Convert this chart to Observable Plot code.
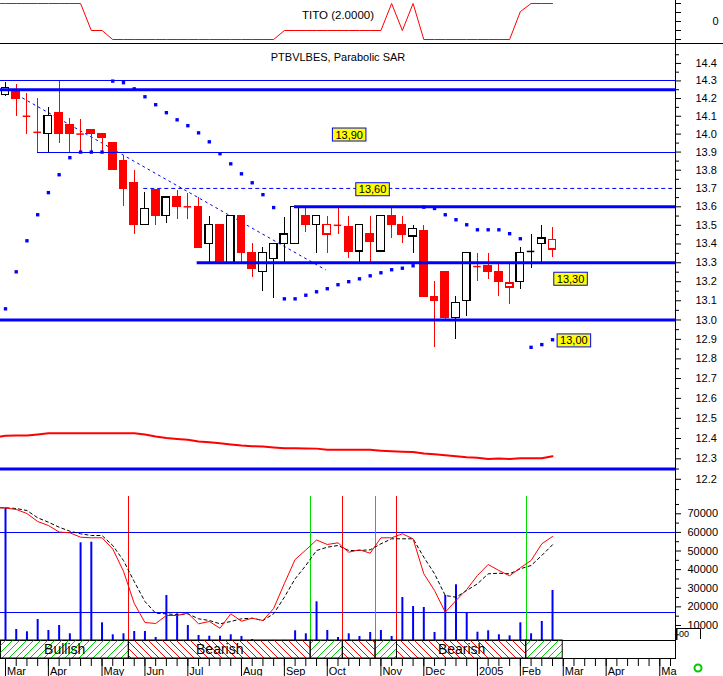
<!DOCTYPE html>
<html><head><meta charset="utf-8">
<script src="https://cdn.jsdelivr.net/npm/d3@7"></script>
<script src="https://cdn.jsdelivr.net/npm/@observablehq/plot@0.6"></script>
<style>
body{margin:0;background:#fff;}
#chart{position:relative;width:723px;height:676px;overflow:hidden;background:#fff;}
</style></head><body><div id="chart"></div>
<script>
// ---------------- DATA ----------------
// weekly candles, Mar 2004 .. Feb 2005 (index = week number)
const weeks = d3.range(52);
const open  = [14.22,14.24,14.10,14.01,14.00,14.12,14.05,14.00,14.02,14.00,13.95,13.85,13.73,13.50,13.69,13.55,13.65,13.60,13.60,13.40,13.50,13.30,13.55,13.35,13.25,13.32,13.40,13.40,13.55,13.50,13.45,13.50,13.49,13.36,13.45,13.36,13.55,13.50,13.44,13.47,13.12,13.25,13.01,13.10,13.28,13.28,13.25,13.17,13.20,13.36,13.40,13.37];
const high  = [14.29,14.28,14.23,14.20,14.15,14.30,14.09,14.08,14.02,14.00,13.95,13.88,13.80,13.68,13.69,13.65,13.69,13.67,13.65,13.55,13.50,13.55,13.55,13.40,13.38,13.40,13.54,13.60,13.60,13.55,13.55,13.60,13.55,13.50,13.55,13.55,13.60,13.55,13.50,13.50,13.20,13.25,13.12,13.35,13.35,13.35,13.29,13.29,13.38,13.45,13.50,13.49];
const low   = [14.21,14.10,14.00,13.90,13.90,13.95,13.90,13.90,13.90,13.90,13.80,13.60,13.45,13.50,13.50,13.51,13.53,13.53,13.38,13.30,13.30,13.30,13.30,13.22,13.15,13.11,13.30,13.40,13.46,13.35,13.35,13.45,13.32,13.30,13.30,13.36,13.43,13.40,13.35,13.12,12.86,13.00,12.90,13.02,13.20,13.21,13.12,13.08,13.16,13.27,13.30,13.33];
const close = [14.26,14.20,14.10,14.01,14.10,14.00,14.00,14.00,14.00,13.98,13.80,13.70,13.50,13.59,13.55,13.65,13.60,13.60,13.38,13.50,13.30,13.55,13.35,13.27,13.35,13.40,13.45,13.60,13.50,13.55,13.50,13.50,13.36,13.50,13.41,13.55,13.50,13.45,13.48,13.12,13.10,13.01,13.09,13.35,13.28,13.25,13.20,13.19,13.35,13.36,13.43,13.42];
// Parabolic SAR
const sar = [13.058,13.252,13.417,13.557,13.677,13.775,13.869,13.90,13.90,13.90,14.299,14.29,14.255,14.21,14.165,14.12,14.08,14.047,14.007,13.957,13.891,13.835,13.78,13.731,13.666,13.596,13.11,13.11,13.129,13.147,13.163,13.184,13.20,13.215,13.231,13.247,13.263,13.271,13.284,13.598,13.591,13.557,13.53,13.503,13.476,13.476,13.476,13.455,13.428,12.859,12.873,12.898];
// long moving average (value at the left edge, then weekly)
const movAvgEdge = 12.41;
const movAvg = [12.413,12.415,12.415,12.42,12.426,12.426,12.426,12.426,12.426,12.426,12.426,12.426,12.426,12.42,12.41,12.402,12.398,12.394,12.385,12.381,12.376,12.37,12.365,12.362,12.36,12.356,12.352,12.352,12.351,12.35,12.344,12.344,12.344,12.344,12.344,12.34,12.337,12.335,12.333,12.326,12.322,12.318,12.313,12.308,12.305,12.299,12.301,12.299,12.303,12.303,12.303,12.313];
// TITO indicator
const titoEdge = 2;
const tito = [2,2,2,2,2,2,2,2,-1,-1,-2,-2,-2,-2,-2,-2,-2,-2,-2,-2,-2,-2,-2,-2,-2,-2,-1,-1,-1,-1,-1,-1,-1,-1,-1,-1,2,-1,2,-2,-2,-2,-2,-2,-2,-2,-2,-2,1.1,2,2,2];
const titoTicks = [2,1,0,-1,-2];
// volume and oscillator
const volume = [73210,7840,6610,13210,7300,9990,5530,54410,54730,11440,5000,5530,6770,6770,3550,26100,16280,9990,4620,4240,4240,5000,4080,2470,1000,2000,2000,7140,5530,22720,7300,3550,5530,4080,6230,7300,4080,25030,20200,19660,6230,26100,31850,16810,6390,7140,5000,4460,11440,5530,12140,28790];
const oscMainEdge = 73210;
const oscMain = [73100,72300,70150,65850,63700,60200,59780,57420,57100,57100,51080,39150,21900,11600,11070,15360,15360,16600,10900,12140,8540,16280,12300,13910,12680,19120,32550,45440,50540,55920,53500,54410,49360,50650,48830,57100,57100,59250,56560,37760,28790,17130,23420,29330,36850,42760,39530,36690,40980,44900,53870,57800];
const oscSignalEdge = 73210;
const oscSignal = [73210,72840,71760,67840,65480,62790,60640,59250,58330,58330,52960,44900,33620,22880,16600,16280,15740,16280,13590,12680,10900,12140,13590,13910,12680,16280,25190,35080,42220,50280,52050,52960,50280,50280,50650,53870,56560,56560,56560,46680,37760,26100,25190,28790,32390,37760,38080,37760,40450,42220,47590,53340];
const oscLevels = [60000, 16800];
const volTickLabels = [10000,20000,30000,40000,50000,60000,70000];
// buy / sell signals (week position) and state band
const signalWeeks = [11.5, 28.45, 31.45, 34.5, 36.5, 48.55];
const signalTypes = ["sell","buy","sell","buy","sell","buy"];
const bandEndWeek = 51.95;
// support / resistance levels
const thickLevels = [14.25, 13.6, 13.3, 13.0, 12.25];
const thickLevelFrom = [null, 26.94, 17.87, null, null];
const thinLevels = [14.3, 13.9];
const thinLevelFrom = [null, 2.98];
const dashedLevels = [13.7];
const dashedLevelFrom = [12.89];
const trendWeeks = [0.63, 29.83];
const trendPrices = [14.236, 13.263];
// yellow price labels
const labelTexts = ["13,90","13,60","13,30","13,00"];
const labelWeeks = [32.04, 34.22, 52.68, 52.99];
const labelPrices = [13.995, 13.693, 13.213, 12.892];
// axis labels
const priceTickLabels = [12.2,12.3,12.4,12.5,12.6,12.7,12.8,12.9,13.0,13.1,13.2,13.3,13.4,13.5,13.6,13.7,13.8,13.9,14.0,14.1,14.2,14.3,14.4];
const monthLabels = ["Mar","Apr","May","Jun","Jul","Aug","Sep","Oct","Nov","Dec","2005","Feb","Mar","Apr","Ma"];
const monthWeeks = [0,4,9,13,17,22,26,30,35,39,44,48,52,56,61];

// ---------------- LAYOUT ----------------
const W = 723, RIGHT = 48;
const PX0 = 5, PXW = 10.726;
const xDomain = [(0 - PX0) / PXW, (W - RIGHT - PX0) / PXW];
const BLUE = "#0000ff", RED = "#ff0000", GREEN = "#00dd00";
const FONT = "'Liberation Sans', Arial, sans-serif";
const baseStyle = {fontFamily: FONT, fontSize: "11px", background: "none", overflow: "visible", color: "black"};
const container = document.getElementById("chart");
function place(node, top) {
  node.style.position = "absolute"; node.style.left = "0px"; node.style.top = top + "px";
  container.appendChild(node); return node;
}
const xMin = xDomain[0], xMax = xDomain[1];
const withEdge = (edge, arr) => [{x: xMin, y: edge}, ...arr.map((y, i) => ({x: i, y}))];

const candles = weeks.map(i => ({i, o: open[i], h: high[i], l: low[i], c: close[i],
  up: i === 0 || close[i] > close[i - 1]}));
const cColor = d => d.up ? "black" : RED;
const cFill = d => d.c < d.o ? cColor(d) : "white";
const HW = 0.35;

// ---- Panel 1: TITO ----
const p1 = Plot.plot({
  width: W, height: 43, marginLeft: 0, marginRight: RIGHT, marginTop: 0, marginBottom: 0,
  style: baseStyle,
  x: {domain: xDomain, axis: null},
  y: {domain: [-22 / 9, 21 / 9]},
  marks: [
    Plot.line(withEdge(titoEdge, tito), {x: "x", y: "y", stroke: RED, strokeWidth: 1}),
    Plot.text(["TITO (2.0000)"], {text: d => d, frameAnchor: "top", dy: 10.3, fontSize: 11.5}),
    Plot.axisY(titoTicks, {anchor: "right", tickSize: 5, tickPadding: 32, tickFormat: d => d === 0 ? "0" : "", label: null}),
    Plot.ruleX([xMax], {stroke: "black"})
  ]
});
place(p1, 0);

// ---- Panel 2: price ----
const p2 = Plot.plot({
  width: W, height: 450, marginLeft: 0, marginRight: RIGHT, marginTop: 0, marginBottom: 0,
  style: baseStyle,
  color: {type: "identity"},
  x: {domain: xDomain, axis: null},
  y: {type: "log", domain: [12.131, 14.515]},
  marks: [
    Plot.line(withEdge(movAvgEdge, movAvg), {x: "x", y: "y", stroke: RED, strokeWidth: 2}),
    Plot.line(trendWeeks, {x: d => d, y: (d, i) => trendPrices[i], stroke: BLUE, strokeWidth: 1, strokeDasharray: "2,4"}),
    Plot.ruleY(dashedLevels, {y: d => d, x1: (d, i) => dashedLevelFrom[i] ?? xMin, x2: xMax, stroke: BLUE, strokeDasharray: "4,3"}),
    Plot.ruleX(candles, {x: "i", y1: "l", y2: "h", stroke: cColor, strokeWidth: 1, shapeRendering: "crispEdges"}),
    Plot.rect(candles.filter(d => d.o !== d.c), {x1: d => d.i - HW, x2: d => d.i + HW, y1: "o", y2: "c",
      fill: cFill, stroke: cColor, strokeWidth: 1.3, shapeRendering: "crispEdges"}),
    Plot.ruleY(candles.filter(d => d.o === d.c), {y: "c", x1: d => d.i - HW, x2: d => d.i + HW, stroke: cColor, strokeWidth: 1.5}),
    Plot.ruleY(thinLevels, {y: d => d, x1: (d, i) => thinLevelFrom[i] ?? xMin, x2: xMax, stroke: BLUE, strokeWidth: 1, shapeRendering: "crispEdges"}),
    Plot.ruleY(thickLevels, {y: d => d, x1: (d, i) => thickLevelFrom[i] ?? xMin, x2: xMax, stroke: BLUE, strokeWidth: 3}),
    Plot.dot(weeks, {x: d => d, y: d => sar[d], symbol: "square", r: 1.9, fill: BLUE}),
    Plot.text(labelTexts, {text: d => d, x: (d, i) => labelWeeks[i], y: (d, i) => labelPrices[i], fontSize: 11, fill: "black"}),
    Plot.text(["PTBVLBES, Parabolic SAR"], {text: d => d, frameAnchor: "top", dy: 9.7, fontSize: 11}),
    Plot.axisY(priceTickLabels, {anchor: "right", tickSize: 5, tickPadding: 15, tickFormat: d3.format(".1f"), label: null}),
    Plot.axisY(priceTickLabels.map(v => v - 0.05).concat([14.45]), {anchor: "right", tickSize: 3, tickFormat: () => "", label: null}),
    Plot.ruleX([xMax], {stroke: "black"})
  ]
});
place(p2, 43);
// yellow boxes behind the price labels
const labelSet = new Set(labelTexts);
d3.select(p2).selectAll("text").filter(function() { return labelSet.has(this.textContent); }).each(function() {
  const b = this.getBBox();
  d3.select(this.parentNode).insert("rect", () => this)
    .attr("transform", this.getAttribute("transform"))
    .attr("x", b.x - 3).attr("y", b.y - 0.5).attr("width", b.width + 6).attr("height", b.height + 1)
    .attr("fill", "#ffff00").attr("stroke", BLUE).attr("stroke-width", 1);
});

// ---- Panel 3: volume & oscillator ----
const SIGNAL_TOP = 79280;
const p3 = Plot.plot({
  width: W, height: 147, marginLeft: 0, marginRight: RIGHT, marginTop: 0, marginBottom: 0,
  style: baseStyle,
  x: {domain: xDomain, axis: null},
  y: {domain: [1934, 80894]},
  marks: [
    Plot.ruleY(oscLevels, {y: d => d, stroke: BLUE, strokeWidth: 1, shapeRendering: "crispEdges"}),
    Plot.ruleX(signalWeeks.filter((d, i) => signalTypes[i] === "sell"), {x: d => d, y1: 0, y2: SIGNAL_TOP, clip: true, stroke: RED, shapeRendering: "crispEdges"}),
    Plot.ruleX(signalWeeks.filter((d, i) => signalTypes[i] === "buy"), {x: d => d, y1: 0, y2: SIGNAL_TOP, clip: true, stroke: GREEN, shapeRendering: "crispEdges"}),
    Plot.ruleX(weeks, {x: d => d, y1: 0, y2: d => volume[d], stroke: BLUE, strokeWidth: 2, clip: true}),
    Plot.line(withEdge(oscSignalEdge, oscSignal), {x: "x", y: "y", stroke: "black", strokeWidth: 1, strokeDasharray: "3,3"}),
    Plot.line(withEdge(oscMainEdge, oscMain), {x: "x", y: "y", stroke: RED, strokeWidth: 1}),
    Plot.axisY(volTickLabels, {anchor: "right", tickSize: 5, tickPadding: 7, tickFormat: d3.format("d"), label: null}),
    Plot.axisY(volTickLabels.map(v => v - 5000).concat([75000]), {anchor: "right", tickSize: 3, tickFormat: () => "", label: null}),
    Plot.ruleX([xMax], {stroke: "black"})
  ]
});
place(p3, 493);

// ---- Panel 4: state band and time axis ----
const bounds = [xMin, ...signalWeeks, bandEndWeek];
const segments = bounds.slice(0, -1).map((x1, k) => ({x1, x2: bounds[k + 1],
  type: k === 0 ? "Bullish" : (signalTypes[k - 1] === "buy" ? "Bullish" : "Bearish")}));
const p4 = Plot.plot({
  width: W - RIGHT + 4, height: 37, marginLeft: 0, marginRight: 4, marginTop: 1, marginBottom: 18,
  style: {...baseStyle, overflow: "hidden"},
  x: {domain: xDomain},
  marks: [
    Plot.frame({stroke: "black"}),
    Plot.rect(segments.filter(s => s.type === "Bullish"), {x1: "x1", x2: "x2", fill: "url(#hatchBull)", stroke: "black"}),
    Plot.rect(segments.filter(s => s.type === "Bearish"), {x1: "x1", x2: "x2", fill: "url(#hatchBear)", stroke: "black"}),
    Plot.text(segments.filter(s => s.x2 - s.x1 > 10), {x: s => (s.x1 + s.x2) / 2, text: "type", frameAnchor: "middle", fontSize: 14}),
    Plot.axisX(d3.range(0, 63), {anchor: "bottom", tickSize: 8, tickFormat: () => "", label: null}),
    Plot.axisX(monthWeeks, {anchor: "bottom", tickSize: 18, tickFormat: () => "", label: null}),
    Plot.text(monthWeeks, {x: d => d, text: (d, i) => monthLabels[i], frameAnchor: "bottom", textAnchor: "start", lineAnchor: "top", dx: 1.5, dy: 8.5, fontSize: 11})
  ]
});
const defs = d3.select(p4).insert("defs", ":first-child");
defs.append("pattern").attr("id", "hatchBull").attr("patternUnits", "userSpaceOnUse").attr("width", 7).attr("height", 7)
  .append("path").attr("d", "M0,7L7,0M-1,1L1,-1M6,8L8,6").attr("stroke", "#00cc00").attr("stroke-width", 1);
defs.append("pattern").attr("id", "hatchBear").attr("patternUnits", "userSpaceOnUse").attr("width", 7).attr("height", 7)
  .append("path").attr("d", "M0,0L7,7M-1,6L1,8M6,-1L8,1").attr("stroke", RED).attr("stroke-width", 1);
place(p4, 639);

// ---- decorations ----
const ov = d3.create("svg").attr("width", W).attr("height", 676)
  .style("position", "absolute").style("left", "0px").style("top", "0px").style("pointer-events", "none");
ov.append("line").attr("x1", 0).attr("x2", W).attr("y1", 43.5).attr("y2", 43.5).attr("stroke", "black");
ov.append("path").attr("d", "M676,628.5H700.5V639").attr("fill", "none").attr("stroke", "black");
ov.append("rect").attr("x", 675.5).attr("y", 628).attr("width", 2).attr("height", 12).attr("fill", "black");
ov.append("text").attr("x", 679).attr("y", 637).attr("font-family", FONT).attr("font-size", 9).text("00");
ov.append("circle").attr("cx", 698).attr("cy", 668).attr("r", 3.5).attr("fill", "none").attr("stroke", "#00cc00").attr("stroke-width", 2);
container.appendChild(ov.node());
</script></body></html>
